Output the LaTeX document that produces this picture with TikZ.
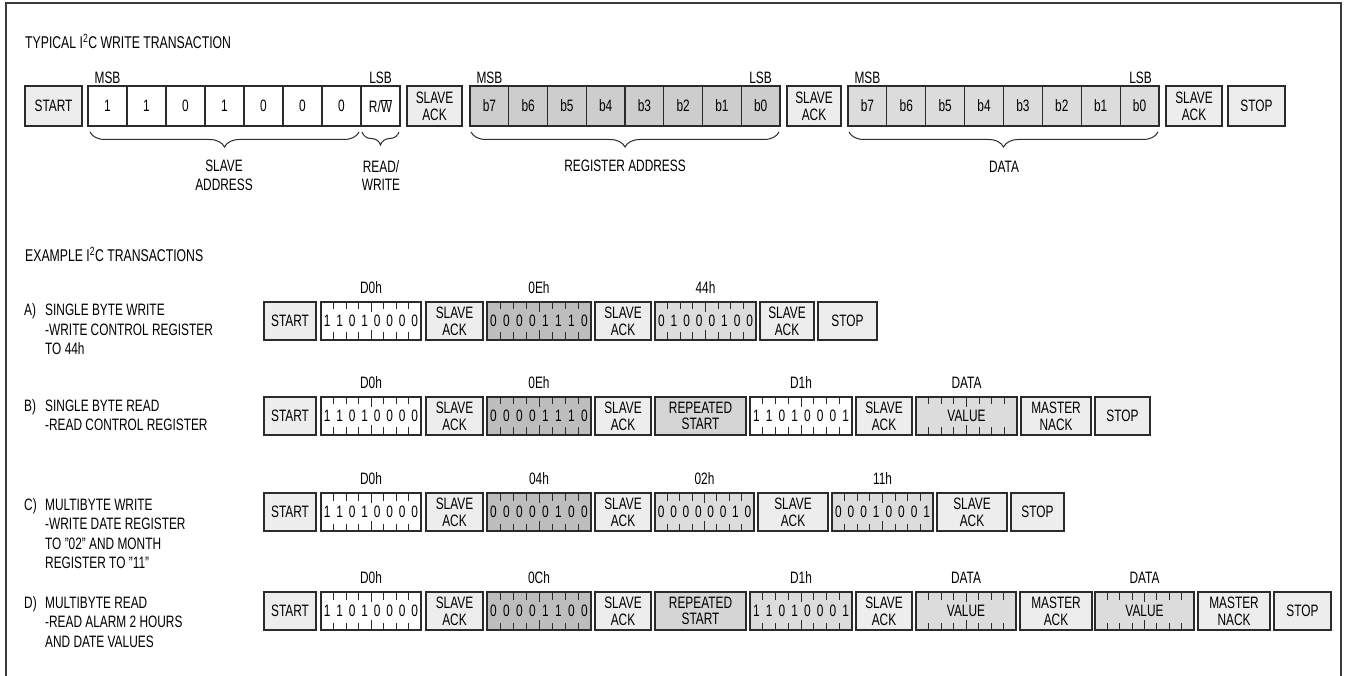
\documentclass[tikz,border=0pt]{standalone}
\usepackage{fontspec}
\setmainfont{Liberation Sans}[FakeStretch=0.72]
\usetikzlibrary{decorations.pathreplacing}
\definecolor{linec}{HTML}{2B2B2B}
\definecolor{framec}{HTML}{3A3A3A}
\definecolor{ctrlfill}{HTML}{EDEDED}
\definecolor{regfill}{HTML}{CDCDCD}
\definecolor{datafill}{HTML}{DCDCDC}
\definecolor{darkfill}{HTML}{BDBDBD}
\definecolor{rsfill}{HTML}{D5D5D5}
\newcommand\boxfont{\fontsize{16.5}{16.7}\selectfont}
\newcommand\lblfont{\fontsize{16.5}{18.5}\selectfont}
\newcommand\titlefont{\fontsize{17}{19}\selectfont}
\newcommand\cellh{38}
\newcommand\cellhalf{19}
\newcommand\mycell[6]{\node[cellbox,fill=#5,minimum width={((#3)-(#2))*1pt}] (#1) at ({((#2)+(#3))/2},{#4}) {#6};}
\newcommand\bytecell[7]{%
  \mycell{#1}{#2}{#3}{#4}{#5}{#7}
  \foreach \k in {1,...,7}{%
    \pgfmathsetmacro\ticklen{\k==4 ? 10 : 7.5}%
    \draw[tick] ({(#2)+\k*((#3)-(#2))/8},{(#4)-\cellhalf}) -- ++(0,\ticklen);
    \draw[tick] ({(#2)+\k*((#3)-(#2))/8},{(#4)+\cellhalf}) -- ++(0,-\ticklen);
  }
  \node[lbl] (#1-lab) at ({((#2)+(#3))/2},{(#4)-33}) {#6};
}
\newcommand\mybits[5]{\foreach \b [count=\k from 0] in {#5}{\node[bit] (#1-\k) at ({(#2)+(\k+0.5)*((#3)-(#2))/8},{#4}) {\b};}}
\tikzset{
  cellbox/.style={draw=linec, line width=1.1pt, inner sep=0pt, outer sep=0pt,
    minimum height=\cellh pt, align=center, font=\boxfont},
  tick/.style={draw=linec, line width=0.9pt},
  bit/.style={inner sep=0pt, font=\boxfont},
  lbl/.style={inner sep=0pt, font=\lblfont, align=center},
  desc/.style={inner sep=0pt, font=\lblfont, anchor=base west},
  brc/.style={draw=linec, line width=1pt, decorate, decoration={brace, mirror, amplitude=15pt}},
}
\begin{document}
\begin{tikzpicture}[x=1pt,y=-1pt]
\useasboundingbox (0,0) rectangle (1345,676);
\fill[white] (0,0) rectangle (1345,676);
\draw[framec, line width=2pt] (6,676) -- (6,3) -- (1341,3) -- (1341,676);

% ---------- typical write transaction ----------
\node[desc, font=\titlefont] (title) at (25,49) {TYPICAL I\textsuperscript{2}C WRITE TRANSACTION};
\def\cellh{40}\def\cellhalf{20}
\mycell{tS}{25}{82}{106}{ctrlfill}{START}
\foreach \v [count=\i] in {1,1,0,1,0,0,0,{R/$\overline{\hbox{W}}$}}{\mycell{t\i}{88+39*(\i-1)}{88+39*\i}{106}{white}{\v}}
\mycell{tA1}{407}{462}{106}{ctrlfill}{SLAVE\\ACK}
\foreach \v [count=\i] in {b7,b6,b5,b4,b3,b2,b1,b0}{\mycell{r\i}{470+38.75*(\i-1)}{470+38.75*\i}{106}{regfill}{\v}}
\mycell{tA2}{787}{841}{106}{ctrlfill}{SLAVE\\ACK}
\foreach \v [count=\i] in {b7,b6,b5,b4,b3,b2,b1,b0}{\mycell{d\i}{848+38.875*(\i-1)}{848+38.875*\i}{106}{datafill}{\v}}
\mycell{tA3}{1166}{1222}{106}{ctrlfill}{SLAVE\\ACK}
\mycell{tP}{1228}{1285}{106}{ctrlfill}{STOP}

\node[lbl] (msb1) at (107.5,78) {MSB};
\node[lbl] (lsb1) at (380.5,78) {LSB};
\node[lbl] (msb2) at (489.4,78) {MSB};
\node[lbl] (lsb2) at (760.6,78) {LSB};
\node[lbl] (msb3) at (867.4,78) {MSB};
\node[lbl] (lsb3) at (1140.6,78) {LSB};

\draw[brc] ([xshift=2pt,yshift=-6pt]t1.south west) -- ([xshift=-2pt,yshift=-6pt]t7.south east);
\draw[brc, decoration={amplitude=13pt}] ([xshift=1pt,yshift=-6pt]t8.south west) -- ([xshift=-1pt,yshift=-6pt]t8.south east);
\draw[brc] ([xshift=1pt,yshift=-6pt]r1.south west) -- ([xshift=-1pt,yshift=-6pt]r8.south east);
\draw[brc] ([xshift=1pt,yshift=-6pt]d1.south west) -- ([xshift=-1pt,yshift=-6pt]d8.south east);
\node[lbl, anchor=north] (lSA) at (224,160) {SLAVE\\ADDRESS};
\node[lbl, anchor=north] (lRW) at (381,160) {READ/\\WRITE};
\node[lbl, anchor=north] (lRA) at (625,160) {REGISTER ADDRESS};
\node[lbl, anchor=north] (lDA) at (1004,161) {DATA};

% ---------- examples ----------
\node[desc, font=\titlefont] (ex) at (25,262) {EXAMPLE I\textsuperscript{2}C TRANSACTIONS};
\def\cellh{38}\def\cellhalf{19}

% A
\node[desc] (Aa) at (24,316) {A)};
\node[desc] (A1) at (45,316) {SINGLE BYTE WRITE};
\node[desc] (A2) at (45,336) {-WRITE CONTROL REGISTER};
\node[desc] (A3) at (45,355) {TO 44h};
\mycell{aS}{264}{316}{321}{ctrlfill}{START}
\bytecell{aB1}{321}{421}{321}{white}{D0h}{}
\mybits{aB1}{321}{421}{321}{1,1,0,1,0,0,0,0}
\mycell{aA1}{426}{483}{321}{ctrlfill}{SLAVE\\ACK}
\bytecell{aB2}{487}{591}{321}{darkfill}{0Eh}{}
\mybits{aB2}{487}{591}{321}{0,0,0,0,1,1,1,0}
\mycell{aA2}{595}{651}{321}{ctrlfill}{SLAVE\\ACK}
\bytecell{aB3}{655}{756}{321}{datafill}{44h}{}
\mybits{aB3}{655}{756}{321}{0,1,0,0,0,1,0,0}
\mycell{aA3}{760}{814}{321}{ctrlfill}{SLAVE\\ACK}
\mycell{aP}{818}{877}{321}{ctrlfill}{STOP}

% B
\node[desc] (Ba) at (24,411.5) {B)};
\node[desc] (B1) at (45,411.5) {SINGLE BYTE READ};
\node[desc] (B2) at (45,430.5) {-READ CONTROL REGISTER};
\mycell{bS}{264}{316}{416}{ctrlfill}{START}
\bytecell{bB1}{321}{421}{416}{white}{D0h}{}
\mybits{bB1}{321}{421}{416}{1,1,0,1,0,0,0,0}
\mycell{bA1}{426}{483}{416}{ctrlfill}{SLAVE\\ACK}
\bytecell{bB2}{487}{591}{416}{darkfill}{0Eh}{}
\mybits{bB2}{487}{591}{416}{0,0,0,0,1,1,1,0}
\mycell{bA2}{595}{651}{416}{ctrlfill}{SLAVE\\ACK}
\mycell{bR}{655}{746}{416}{rsfill}{REPEATED\\START}
\bytecell{bB3}{750}{852}{416}{white}{D1h}{}
\mybits{bB3}{750}{852}{416}{1,1,0,1,0,0,0,1}
\mycell{bA3}{856}{912}{416}{ctrlfill}{SLAVE\\ACK}
\bytecell{bV}{916}{1017}{416}{datafill}{DATA}{VALUE}
\mycell{bN}{1021}{1091}{416}{ctrlfill}{MASTER\\NACK}
\mycell{bP}{1095}{1150}{416}{ctrlfill}{STOP}

% C
\node[desc] (Ca) at (24,510) {C)};
\node[desc] (C1) at (45,510) {MULTIBYTE WRITE};
\node[desc] (C2) at (45,529) {-WRITE DATE REGISTER};
\node[desc] (C3) at (45,549) {TO "02" AND MONTH};
\node[desc] (C4) at (45,568) {REGISTER TO "11"};
\mycell{cS}{264}{316}{512}{ctrlfill}{START}
\bytecell{cB1}{321}{421}{512}{white}{D0h}{}
\mybits{cB1}{321}{421}{512}{1,1,0,1,0,0,0,0}
\mycell{cA1}{426}{483}{512}{ctrlfill}{SLAVE\\ACK}
\bytecell{cB2}{487}{591}{512}{darkfill}{04h}{}
\mybits{cB2}{487}{591}{512}{0,0,0,0,0,1,0,0}
\mycell{cA2}{595}{651}{512}{ctrlfill}{SLAVE\\ACK}
\bytecell{cB3}{655}{754}{512}{datafill}{02h}{}
\mybits{cB3}{655}{754}{512}{0,0,0,0,0,0,1,0}
\mycell{cA3}{758}{828}{512}{ctrlfill}{SLAVE\\ACK}
\bytecell{cB4}{832}{933}{512}{datafill}{11h}{}
\mybits{cB4}{832}{933}{512}{0,0,0,1,0,0,0,1}
\mycell{cA4}{937}{1007}{512}{ctrlfill}{SLAVE\\ACK}
\mycell{cP}{1011}{1064}{512}{ctrlfill}{STOP}

% D
\node[desc] (Da) at (24,608) {D)};
\node[desc] (D1) at (45,608) {MULTIBYTE READ};
\node[desc] (D2) at (45,627) {-READ ALARM 2 HOURS};
\node[desc] (D3) at (45,647) {AND DATE VALUES};
\mycell{dS}{264}{316}{611}{ctrlfill}{START}
\bytecell{dB1}{321}{421}{611}{white}{D0h}{}
\mybits{dB1}{321}{421}{611}{1,1,0,1,0,0,0,0}
\mycell{dA1}{426}{483}{611}{ctrlfill}{SLAVE\\ACK}
\bytecell{dB2}{487}{591}{611}{darkfill}{0Ch}{}
\mybits{dB2}{487}{591}{611}{0,0,0,0,1,1,0,0}
\mycell{dA2}{595}{651}{611}{ctrlfill}{SLAVE\\ACK}
\mycell{dR}{655}{746}{611}{rsfill}{REPEATED\\START}
\bytecell{dB3}{750}{852}{611}{datafill}{D1h}{}
\mybits{dB3}{750}{852}{611}{1,1,0,1,0,0,0,1}
\mycell{dA3}{856}{912}{611}{ctrlfill}{SLAVE\\ACK}
\bytecell{dV1}{916}{1016}{611}{datafill}{DATA}{VALUE}
\mycell{dM}{1020}{1092}{611}{ctrlfill}{MASTER\\ACK}
\bytecell{dV2}{1095}{1194}{611}{datafill}{DATA}{VALUE}
\mycell{dN}{1198}{1270}{611}{ctrlfill}{MASTER\\NACK}
\mycell{dP}{1274}{1331}{611}{ctrlfill}{STOP}
\end{tikzpicture}
\end{document}
